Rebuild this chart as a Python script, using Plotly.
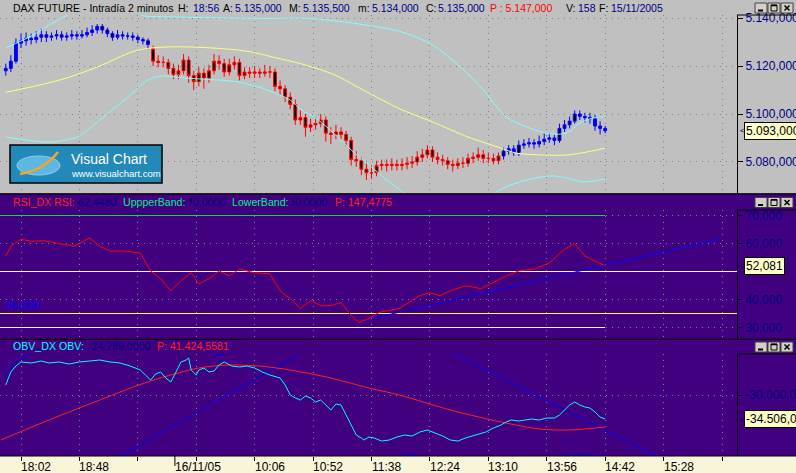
import plotly.graph_objects as go

W, H = 796, 473

# ---------------- data ----------------
# x = bar number of 2-minute bars; bar 0 = 18:02 on 15/11/2005
TICK_BARS = [0, 23, 46, 69, 92, 115, 138, 161, 184, 207, 230, 253, 276]
TICK_LABELS = ["18:02", "18:48", "", "", "10:06", "10:52", "11:38", "12:24", "13:10", "13:56", "14:42", "15:28", ""]
DAY_BREAK_BAR = 60.6
DAY_LABEL = "16/11/05"
X_RANGE = [-8.27, 281.9]

CANDLE_BARS = list(range(-6, 231, 2))
OPEN = [5118.0, 5119.0, 5122.0, 5129.5, 5130.5, 5131.5, 5131.0, 5132.0, 5133.0, 5132.0,
        5132.5, 5133.0, 5132.0, 5132.5, 5133.0, 5132.5, 5133.0, 5134.0, 5135.0, 5136.5,
        5135.0, 5133.5, 5132.0, 5133.0, 5132.5, 5132.5, 5132.0, 5131.0, 5130.5, 5127.0,
        5122.0, 5121.5, 5121.5, 5119.0, 5116.5, 5118.0, 5122.5, 5116.0, 5113.5, 5117.0,
        5115.0, 5118.0, 5122.0, 5121.0, 5117.5, 5120.5, 5121.5, 5116.0, 5117.5, 5117.0,
        5117.5, 5117.0, 5117.5, 5117.5, 5111.5, 5110.5, 5107.0, 5104.0, 5097.5, 5098.5,
        5094.5, 5095.5, 5096.0, 5097.5, 5092.0, 5091.5, 5092.5, 5091.5, 5089.0, 5081.0,
        5080.5, 5077.0, 5075.5, 5075.5, 5078.5, 5079.0, 5078.5, 5079.0, 5078.5, 5079.0,
        5079.5, 5080.0, 5082.0, 5083.0, 5085.0, 5082.0, 5081.0, 5080.5, 5079.0, 5078.5,
        5079.5, 5079.5, 5081.5, 5082.0, 5083.0, 5081.5, 5081.5, 5080.5, 5082.5, 5084.5,
        5085.5, 5084.0, 5087.0, 5087.5, 5088.0, 5087.5, 5088.5, 5089.5, 5090.0, 5089.0,
        5094.0, 5095.5, 5097.0, 5100.0, 5099.0, 5098.5, 5098.0, 5095.0, 5094.0]
HIGH = [5121.0, 5124.5, 5131.5, 5133.5, 5134.0, 5133.5, 5134.5, 5135.5, 5134.5, 5134.0,
        5135.0, 5134.5, 5134.0, 5135.0, 5134.5, 5135.0, 5136.0, 5137.0, 5137.5, 5137.5,
        5136.0, 5134.5, 5135.0, 5134.5, 5134.0, 5134.0, 5133.0, 5132.0, 5131.5, 5128.5,
        5124.5, 5124.0, 5123.0, 5121.0, 5120.5, 5125.0, 5124.0, 5118.0, 5119.5, 5119.0,
        5120.5, 5125.0, 5124.5, 5123.0, 5123.0, 5124.0, 5123.0, 5119.5, 5119.5, 5120.0,
        5119.0, 5120.5, 5120.0, 5119.0, 5114.0, 5112.0, 5109.0, 5106.0, 5101.5, 5100.0,
        5098.0, 5098.5, 5100.0, 5099.0, 5094.5, 5095.5, 5094.5, 5093.0, 5090.5, 5084.5,
        5082.0, 5079.5, 5078.5, 5080.5, 5081.0, 5081.0, 5081.5, 5081.0, 5081.5, 5082.0,
        5082.5, 5084.5, 5085.5, 5087.0, 5086.5, 5084.0, 5083.0, 5082.0, 5081.0, 5081.5,
        5082.0, 5083.5, 5084.0, 5086.0, 5085.0, 5084.0, 5083.5, 5084.0, 5086.0, 5087.0,
        5087.0, 5089.0, 5089.5, 5090.0, 5089.5, 5091.0, 5092.0, 5092.0, 5091.5, 5096.0,
        5097.5, 5099.0, 5101.5, 5101.5, 5100.5, 5100.5, 5099.5, 5097.0, 5095.0]
LOW = [5116.0, 5117.5, 5121.0, 5127.5, 5128.5, 5129.0, 5129.5, 5130.0, 5130.0, 5130.5,
       5131.0, 5130.5, 5130.5, 5131.0, 5131.0, 5131.5, 5132.0, 5132.5, 5133.5, 5133.5,
       5132.0, 5130.5, 5131.0, 5131.0, 5131.0, 5130.5, 5129.5, 5129.0, 5127.0, 5120.0,
       5119.5, 5119.5, 5116.5, 5114.5, 5114.5, 5116.5, 5113.0, 5110.0, 5111.5, 5110.5,
       5113.0, 5116.5, 5118.5, 5115.5, 5116.0, 5118.5, 5114.0, 5114.5, 5115.0, 5115.0,
       5115.0, 5115.5, 5115.0, 5109.5, 5108.0, 5105.0, 5102.0, 5095.5, 5095.5, 5090.5,
       5092.5, 5093.5, 5094.5, 5088.5, 5087.5, 5089.5, 5089.5, 5086.5, 5078.5, 5078.0,
       5074.5, 5072.5, 5073.0, 5074.0, 5076.5, 5076.0, 5076.5, 5076.5, 5076.5, 5077.0,
       5077.5, 5078.5, 5080.0, 5081.5, 5080.0, 5079.0, 5078.5, 5077.0, 5076.0, 5077.0,
       5077.5, 5078.0, 5079.5, 5080.5, 5079.5, 5079.5, 5079.0, 5079.0, 5081.0, 5083.0,
       5082.5, 5082.5, 5085.5, 5086.0, 5085.5, 5086.0, 5087.0, 5088.0, 5087.0, 5088.0,
       5092.5, 5094.0, 5096.0, 5097.5, 5096.5, 5096.0, 5093.0, 5091.5, 5092.0]
CLOSE = [5119.0, 5122.0, 5129.5, 5130.5, 5131.5, 5131.0, 5132.0, 5133.0, 5132.0, 5132.5,
         5133.0, 5132.0, 5132.5, 5133.0, 5132.5, 5133.0, 5134.0, 5135.0, 5136.5, 5135.0,
         5133.5, 5132.0, 5133.0, 5132.5, 5132.5, 5132.0, 5131.0, 5130.5, 5129.0, 5122.0,
         5121.5, 5121.5, 5119.0, 5116.5, 5118.0, 5122.5, 5116.0, 5113.5, 5117.0, 5115.0,
         5118.0, 5122.0, 5121.0, 5117.5, 5120.5, 5121.5, 5116.0, 5117.5, 5117.0, 5117.5,
         5117.0, 5117.5, 5117.5, 5111.5, 5110.5, 5107.0, 5104.0, 5097.5, 5098.5, 5094.5,
         5095.5, 5096.0, 5097.5, 5092.0, 5091.5, 5092.5, 5091.5, 5089.0, 5081.0, 5080.5,
         5077.0, 5075.5, 5075.5, 5078.5, 5079.0, 5078.5, 5079.0, 5078.5, 5079.0, 5079.5,
         5080.0, 5082.0, 5083.0, 5085.0, 5082.0, 5081.0, 5080.5, 5079.0, 5078.5, 5079.5,
         5079.5, 5081.5, 5082.0, 5083.0, 5081.5, 5081.5, 5080.5, 5082.5, 5084.5, 5085.5,
         5084.0, 5087.0, 5087.5, 5088.0, 5087.5, 5088.5, 5089.5, 5090.0, 5089.0, 5094.0,
         5095.5, 5097.0, 5100.0, 5099.0, 5098.5, 5098.0, 5095.0, 5094.0, 5093.0]
BLUE1_END = 29      # candles [0, 29) drawn blue
BLUE2_START = 98    # candles [98, end) drawn blue

MA_BARS = [-6, 7, 18, 31, 44, 51, 61, 70, 82, 90, 100, 110, 123, 136, 149, 162, 176, 189, 195, 206, 215, 223, 230]
MA_VALS = [5109.0, 5112.0, 5115.0, 5120.0, 5126.0, 5127.5, 5128.0, 5127.8, 5127.0, 5126.0, 5123.5, 5121.0,
           5116.5, 5109.3, 5102.2, 5096.7, 5090.4, 5085.8, 5083.7, 5082.9, 5082.9, 5084.2, 5085.8]
UP_BARS = [-6, 5, 11, 18, 27, 39, 48, 59, 70, 83, 98, 110, 118, 130, 136, 149, 162, 173, 182, 191, 199, 208, 215, 220, 225, 230]
UP_VALS = [5127.5, 5133.0, 5137.0, 5141.0, 5145.0, 5145.0, 5141.0, 5140.5, 5140.2, 5140.0, 5139.8, 5140.0, 5139.5,
           5138.0, 5137.0, 5134.5, 5128.8, 5119.6, 5110.0, 5098.8, 5094.6, 5091.7, 5092.1, 5096.2, 5098.3, 5098.8]
LO_BARS = [-6, 11, 22, 31, 42, 50, 55, 64, 77, 86, 97, 106, 110, 117, 123, 130, 136, 149, 161, 177, 190, 199, 209, 215, 221, 230]
LO_VALS = [5090.4, 5088.3, 5090.4, 5097.5, 5107.0, 5114.2, 5115.8, 5115.0, 5114.2, 5113.3, 5110.0, 5105.8, 5102.0,
           5097.5, 5092.1, 5085.0, 5079.6, 5068.5, 5061.0, 5061.0, 5069.2, 5072.5, 5074.2, 5073.3, 5071.7, 5072.9]
PRICE_TICKS = [5080, 5100, 5120, 5140]
PRICE_TICKTEXT = ["5.080,000", "5.100,000", "5.120,000", "5.140,000"]
PRICE_LAST_TEXT = "5.093,000"

RSI_BARS = [-6, -4, 0, 4, 9, 15, 21, 27, 31, 35, 41, 47, 51, 55, 59, 63, 67, 70, 74, 78, 82, 86, 92, 98, 102, 106,
            110, 114, 118, 122, 126, 130, 133, 137, 141, 149, 157, 161, 165, 169, 175, 181, 187, 191, 196, 202, 208,
            214, 218, 222, 226, 230]
RSI_VALS = [55.5, 59.0, 61.5, 60.8, 61.0, 60.0, 59.0, 62.0, 59.0, 57.3, 57.3, 56.6, 50.2, 47.4, 43.1, 46.7, 49.5,
            45.6, 47.4, 50.2, 48.4, 50.9, 49.5, 49.2, 43.1, 40.3, 36.8, 39.6, 37.8, 37.8, 38.9, 34.3, 31.8, 33.3,
            35.4, 36.8, 41.4, 42.4, 41.4, 43.1, 44.9, 43.9, 46.7, 48.4, 50.2, 50.9, 53.0, 58.0, 60.0, 55.5, 53.7, 52.081]
RSI_UPPER, RSI_LOWER, RSI_MID, RSI_REF = 70, 30, 50, 35
RSI_TREND_BARS = [139, 275]
RSI_TREND_VALS = [33.4, 61.6]
RSI_TICKS = [30, 40, 60, 70]
RSI_TICKTEXT = ["30,000", "40,000", "60,000", "70,000"]
RSI_LAST_TEXT = "52,081"

OBV_BARS = [-6, -4, -2, 0, 4, 8, 11, 15, 19, 23, 27, 31, 35, 39, 43, 47, 49, 51, 53, 55, 57, 59, 61, 63, 65, 66,
            67, 69, 70, 72, 74, 76, 78, 80, 83, 86, 89, 92, 95, 98, 102, 104, 106, 108, 110, 112, 114, 116, 118,
            120, 122, 124, 126, 128, 130, 132, 134, 135, 137, 139, 142, 145, 148, 151, 154, 157, 160, 163, 166,
            169, 172, 175, 178, 181, 183, 186, 189, 191, 193, 196, 198, 201, 204, 207, 210, 212, 214, 216, 218,
            220, 222, 224, 226, 228, 230]
OBV_VALS = [-28120, -25680, -24560, -23800, -23990, -23620, -23990, -23800, -24180, -23800, -23620, -23430,
            -23800, -23990, -24560, -25310, -26250, -27180, -26060, -25680, -26810, -27560, -25680, -23800,
            -23430, -23050, -25310, -26250, -25310, -24930, -25680, -25490, -24370, -23800, -24560, -24740,
            -24560, -24930, -25680, -26250, -26810, -28120, -30000, -30560, -30940, -30190, -30560, -31310,
            -30940, -31880, -32820, -31690, -31880, -33760, -35630, -37510, -38070, -38450, -37890, -38070,
            -38640, -38450, -37890, -37510, -37700, -36950, -36570, -37130, -37700, -38450, -38640, -38070,
            -37700, -37320, -36950, -36200, -35630, -35070, -34690, -34880, -34690, -34510, -34690, -34320,
            -34320, -33760, -32820, -31880, -31310, -31880, -32250, -32440, -33190, -34130, -34506]
OBV_MA_BARS = [-8, 11, 31, 51, 70, 82, 94, 106, 122, 137, 149, 169, 189, 204, 216, 230]
OBV_MA_VALS = [-38450, -34690, -30940, -27370, -24930, -24370, -24560, -25310, -26810, -28690, -30000,
               -32820, -35070, -36380, -36570, -36010]
OBV_UP_BARS = [-6, -2, 2, 6, 15, 39, 67, 74, 78, 81, 88, 102]
OBV_UP_VALS = [-26250, -23800, -22680, -21550, -19670, -17800, -20610, -22120, -22490, -22120, -20050, -15920]
OBV_LINE_A_BARS = [38, 111]
OBV_LINE_A_VALS = [-41830, -21930]
OBV_LINE_B_BARS = [169, 252]
OBV_LINE_B_VALS = [-21930, -41830]
OBV_LO_BARS = [141, 150, 156, 165, 200, 207, 218, 230]
OBV_LO_VALS = [-44080, -41450, -41270, -44080, -44080, -42200, -41270, -41450]
OBV_TICKS = [-30000]
OBV_TICKTEXT = ["-30.000,000"]
OBV_LAST_TEXT = "-34.506,000"

HEADER = [(13, "DAX FUTURE - Intradía 2 minutos", "#000000"), (178, "H:", "#000000"), (193, "18:56", "#000080"),
          (223, "A:", "#000000"), (235, "5.135,000", "#000080"), (289, "M:", "#000000"),
          (303, "5.135,500", "#000080"), (358, "m:", "#000000"), (372, "5.134,000", "#000080"),
          (426, "C:", "#000000"), (438, "5.135,000", "#000080"), (490, "P : 5.147,000", "#FF0000"),
          (566, "V:", "#000000"), (578, "158", "#000080"), (599, "F:", "#000000"), (611, "15/11/2005", "#000080")]
RSI_HEADER = [(13, "RSI_DX RSI:", "#FF2020"), (78, "62,4480", "#000080"), (123, "UppperBand:", "#00F080"),
              (187, "70,0000", "#000080"), (232, "LowerBand:", "#00F080"), (289, "30,0000", "#000080"),
              (335, "P: 147,4775", "#FF2020")]
OBV_HEADER = [(13, "OBV_DX OBV:", "#00FFFF"), (88, "-24.289,0000", "#000080"), (157, "P: 41.424,5581", "#FF2020")]

# ---------------- styling helpers ----------------
FONT = "Liberation Sans, Arial, sans-serif"
GRAY = "#C0C0C0"
PURPLE = "#400080"
CREAM = "#F8F5D8"
NAVY = "#000080"
PLOT_RIGHT = 737


def fx(px):
    return px / W


def fy(py):
    return 1 - py / H


fig = go.Figure()

# Bollinger bands and average (price panel)
for bx, by, col in [(UP_BARS, UP_VALS, "#80FFFF"), (LO_BARS, LO_VALS, "#80FFFF"), (MA_BARS, MA_VALS, "#FFFF80")]:
    fig.add_trace(go.Scatter(x=bx, y=by, mode="lines", line=dict(color=col, width=1, shape="spline", smoothing=0.8),
                             xaxis="x", yaxis="y", hoverinfo="skip", showlegend=False))


def candles(a, b, line_col, inc_fill, dec_fill):
    fig.add_trace(go.Candlestick(
        x=CANDLE_BARS[a:b], open=OPEN[a:b], high=HIGH[a:b], low=LOW[a:b], close=CLOSE[a:b],
        increasing=dict(line=dict(color=line_col, width=1), fillcolor=inc_fill),
        decreasing=dict(line=dict(color=line_col, width=1), fillcolor=dec_fill),
        whiskerwidth=0, xaxis="x", yaxis="y", hoverinfo="skip", showlegend=False))


candles(0, BLUE1_END, "#0000FF", "#0000FF", "#000000")
candles(BLUE1_END, BLUE2_START, "#FF0000", "#000000", "#000000")
candles(BLUE2_START, len(CANDLE_BARS), "#0000FF", "#000000", "#0000FF")

# RSI panel
last_bar = CANDLE_BARS[-1]
for lvl, col, xs in [(RSI_UPPER, "#00E040", [X_RANGE[0], last_bar]), (RSI_LOWER, "#FFFFFF", [X_RANGE[0], last_bar]),
                     (RSI_MID, "#FFFFFF", X_RANGE), (RSI_REF, "#FFFF40", X_RANGE)]:
    fig.add_trace(go.Scatter(x=xs, y=[lvl, lvl], mode="lines", line=dict(color=col, width=1),
                             xaxis="x2", yaxis="y2", hoverinfo="skip", showlegend=False))
fig.add_trace(go.Scatter(x=RSI_TREND_BARS, y=RSI_TREND_VALS, mode="lines", line=dict(color="#0000FF", width=1),
                         xaxis="x2", yaxis="y2", hoverinfo="skip", showlegend=False))
fig.add_trace(go.Scatter(x=RSI_BARS, y=RSI_VALS, mode="lines", line=dict(color="#FF0000", width=1),
                         xaxis="x2", yaxis="y2", hoverinfo="skip", showlegend=False))

# OBV panel
for bx, by in [(OBV_UP_BARS, OBV_UP_VALS), (OBV_LINE_A_BARS, OBV_LINE_A_VALS),
               (OBV_LINE_B_BARS, OBV_LINE_B_VALS), (OBV_LO_BARS, OBV_LO_VALS)]:
    fig.add_trace(go.Scatter(x=bx, y=by, mode="lines", line=dict(color="#0000FF", width=1, shape="spline", smoothing=0.6),
                             xaxis="x3", yaxis="y3", hoverinfo="skip", showlegend=False))
fig.add_trace(go.Scatter(x=OBV_MA_BARS, y=OBV_MA_VALS, mode="lines",
                         line=dict(color="#FF2020", width=1, shape="spline", smoothing=0.8),
                         xaxis="x3", yaxis="y3", hoverinfo="skip", showlegend=False))
fig.add_trace(go.Scatter(x=OBV_BARS, y=OBV_VALS, mode="lines", line=dict(color="#00FFFF", width=1),
                         xaxis="x3", yaxis="y3", hoverinfo="skip", showlegend=False))

# ---------------- axes ----------------
xcommon = dict(range=X_RANGE, domain=[0, fx(PLOT_RIGHT)], tickvals=TICK_BARS, showticklabels=False,
               showgrid=True, gridcolor="#808080", griddash="1px,5px", gridwidth=1, zeroline=False,
               showline=False, fixedrange=True, automargin=False)
ycommon = dict(side="right", showline=True, linecolor="#000000", linewidth=1, ticks="outside", ticklen=5,
               tickcolor="#000000", tickfont=dict(family=FONT, size=12, color=NAVY), showgrid=True,
               gridcolor="#808080", griddash="1px,5px", gridwidth=1, zeroline=False, fixedrange=True,
               automargin=False)

fig.update_layout(
    xaxis=dict(xcommon, anchor="y", ticks="", rangeslider=dict(visible=False)),
    xaxis2=dict(xcommon, anchor="y2", ticks=""),
    xaxis3=dict(xcommon, anchor="y3", ticks="outside", ticklen=4, tickcolor="#000000"),
    yaxis=dict(ycommon, anchor="x", domain=[fy(193), fy(15)], range=[5067.08, 5141.25],
               tickvals=PRICE_TICKS, ticktext=PRICE_TICKTEXT),
    yaxis2=dict(ycommon, anchor="x2", domain=[fy(339), fy(210)], range=[25.893, 71.964],
                tickvals=RSI_TICKS, ticktext=RSI_TICKTEXT),
    yaxis3=dict(ycommon, anchor="x3", domain=[fy(456), fy(354)], range=[-41453, -22302],
                tickvals=OBV_TICKS, ticktext=OBV_TICKTEXT),
    boxgap=0.2,
)

# ---------------- backgrounds / decorations ----------------
shapes = []


def rect(x0, y0, x1, y1, fill, line=None, lw=0, layer="below"):
    shapes.append(dict(type="rect", xref="paper", yref="paper", x0=fx(x0), x1=fx(x1), y0=fy(y1), y1=fy(y0),
                       fillcolor=fill, line=dict(color=line or fill, width=lw), layer=layer))


def hline(x0, x1, py, col="#000000", lw=1, layer="above"):
    shapes.append(dict(type="line", xref="paper", yref="paper", x0=fx(x0), x1=fx(x1), y0=fy(py), y1=fy(py),
                       line=dict(color=col, width=lw), layer=layer))


def seg(p0, p1, col="#000000", lw=1):
    shapes.append(dict(type="line", xref="paper", yref="paper", x0=fx(p0[0]), x1=fx(p1[0]), y0=fy(p0[1]),
                       y1=fy(p1[1]), line=dict(color=col, width=lw), layer="above"))


rect(0, 0, W, 193.5, GRAY)
rect(0, 193.5, W, 339.5, PURPLE)
rect(0, 339.5, W, 456, PURPLE)
hline(0, W, 193.8, lw=1.2)
hline(0, W, 339.3, lw=1.2)
hline(0, W, 456, lw=1)
# right axis box tops
for top in (15, 210, 354):
    hline(PLOT_RIGHT, W, top, lw=1)
# day separator tick
shapes.append(dict(type="line", xref="x3", yref="paper", x0=DAY_BREAK_BAR, x1=DAY_BREAK_BAR, y0=fy(466), y1=fy(456),
                   line=dict(color="#000000", width=1), layer="above"))

# window buttons
for ty in (3, 197.5, 342):
    for i, bx0 in enumerate((755, 768, 781)):
        rect(bx0, ty, bx0 + 12, ty + 10, "#D4D0C8", "#404040", 1, layer="above")
        if i == 0:
            seg((bx0 + 3, ty + 7.5), (bx0 + 8, ty + 7.5), lw=2)
        elif i == 1:
            rect(bx0 + 3, ty + 2, bx0 + 9, ty + 8, "rgba(0,0,0,0)", "#000000", 1, layer="above")
            seg((bx0 + 3, ty + 2.5), (bx0 + 9, ty + 2.5), lw=1.5)
        else:
            seg((bx0 + 3.5, ty + 2.5), (bx0 + 8.5, ty + 7.5), lw=1.5)
            seg((bx0 + 8.5, ty + 2.5), (bx0 + 3.5, ty + 7.5), lw=1.5)

# Visual Chart logo
rect(10, 145, 162, 183, "#2389B8", "#000000", 1.5, layer="above")
shapes.append(dict(type="circle", xref="paper", yref="paper", x0=fx(17), x1=fx(60), y0=fy(175), y1=fy(156),
                   fillcolor="#5DB7E0", line=dict(color="#8FD0F0", width=1), layer="above"))
shapes.append(dict(type="path", xref="paper", yref="paper",
                   path="M %f,%f Q %f,%f %f,%f" % (fx(20), fy(174), fx(44), fy(170), fx(58), fy(152)),
                   line=dict(color="#F5A623", width=2.5), layer="above"))

fig.update_layout(shapes=shapes)

# ---------------- text ----------------
ann = []


def txt(px, py, s, color, size=10.5, anchor="left"):
    ann.append(dict(xref="paper", yref="paper", x=fx(px), y=fy(py), text=s, showarrow=False, xanchor=anchor,
                    yanchor="middle", font=dict(family=FONT, size=size, color=color), borderpad=0))


for px, s, c in HEADER:
    txt(px - 1, 8, s, c)
for px, s, c in RSI_HEADER:
    txt(px - 1, 202, s, c, size=10.6)
for px, s, c in OBV_HEADER:
    txt(px - 1, 346, s, c, size=10.6)
txt(4, 305, "35.000", "#0000FF", size=11.5)
txt(70, 158.5, "Visual Chart", "#FFFFFF", size=14)
txt(70, 173.5, "www.visualchart.com", "#FFFFFF", size=9.5)

# x-axis labels on bottom strip
for b, lab in zip(TICK_BARS, TICK_LABELS):
    if lab:
        ann.append(dict(xref="x3", yref="paper", x=b, y=fy(466.5), text=lab, showarrow=False, xanchor="left",
                        yanchor="middle", xshift=-1, font=dict(family=FONT, size=12, color="#000000"), borderpad=0))
ann.append(dict(xref="x3", yref="paper", x=DAY_BREAK_BAR, y=fy(466.5), text=DAY_LABEL, showarrow=False,
                xanchor="left", yanchor="middle", xshift=-1, font=dict(family=FONT, size=12, color="#000000"),
                borderpad=0))

# last-value boxes
for yref, val, label in [("y", CLOSE[-1], PRICE_LAST_TEXT), ("y2", RSI_VALS[-1], RSI_LAST_TEXT),
                         ("y3", OBV_VALS[-1], OBV_LAST_TEXT)]:
    ann.append(dict(xref="paper", yref=yref, x=fx(744), y=val, text=label, showarrow=False, xanchor="left",
                    yanchor="middle", bgcolor="#FFFFC8", bordercolor="#000000", borderwidth=1, borderpad=1,
                    font=dict(family=FONT, size=12, color="#000000")))
    ann.append(dict(xref="paper", yref=yref, x=fx(738.5), y=val, text="<", showarrow=False, xanchor="left",
                    yanchor="middle", font=dict(family=FONT, size=8, color="#000000"), borderpad=0))

fig.update_layout(
    annotations=ann,
    width=W, height=H, autosize=False,
    margin=dict(l=0, r=0, t=0, b=0, pad=0),
    paper_bgcolor=CREAM, plot_bgcolor="rgba(0,0,0,0)",
    template="none", showlegend=False,
    font=dict(family=FONT, size=11, color="#000000"),
    hovermode=False,
)

fig.write_html("out.html", config={"displayModeBar": False, "staticPlot": True},
               post_script="document.body.style.margin='0';document.body.style.overflow='hidden';")
